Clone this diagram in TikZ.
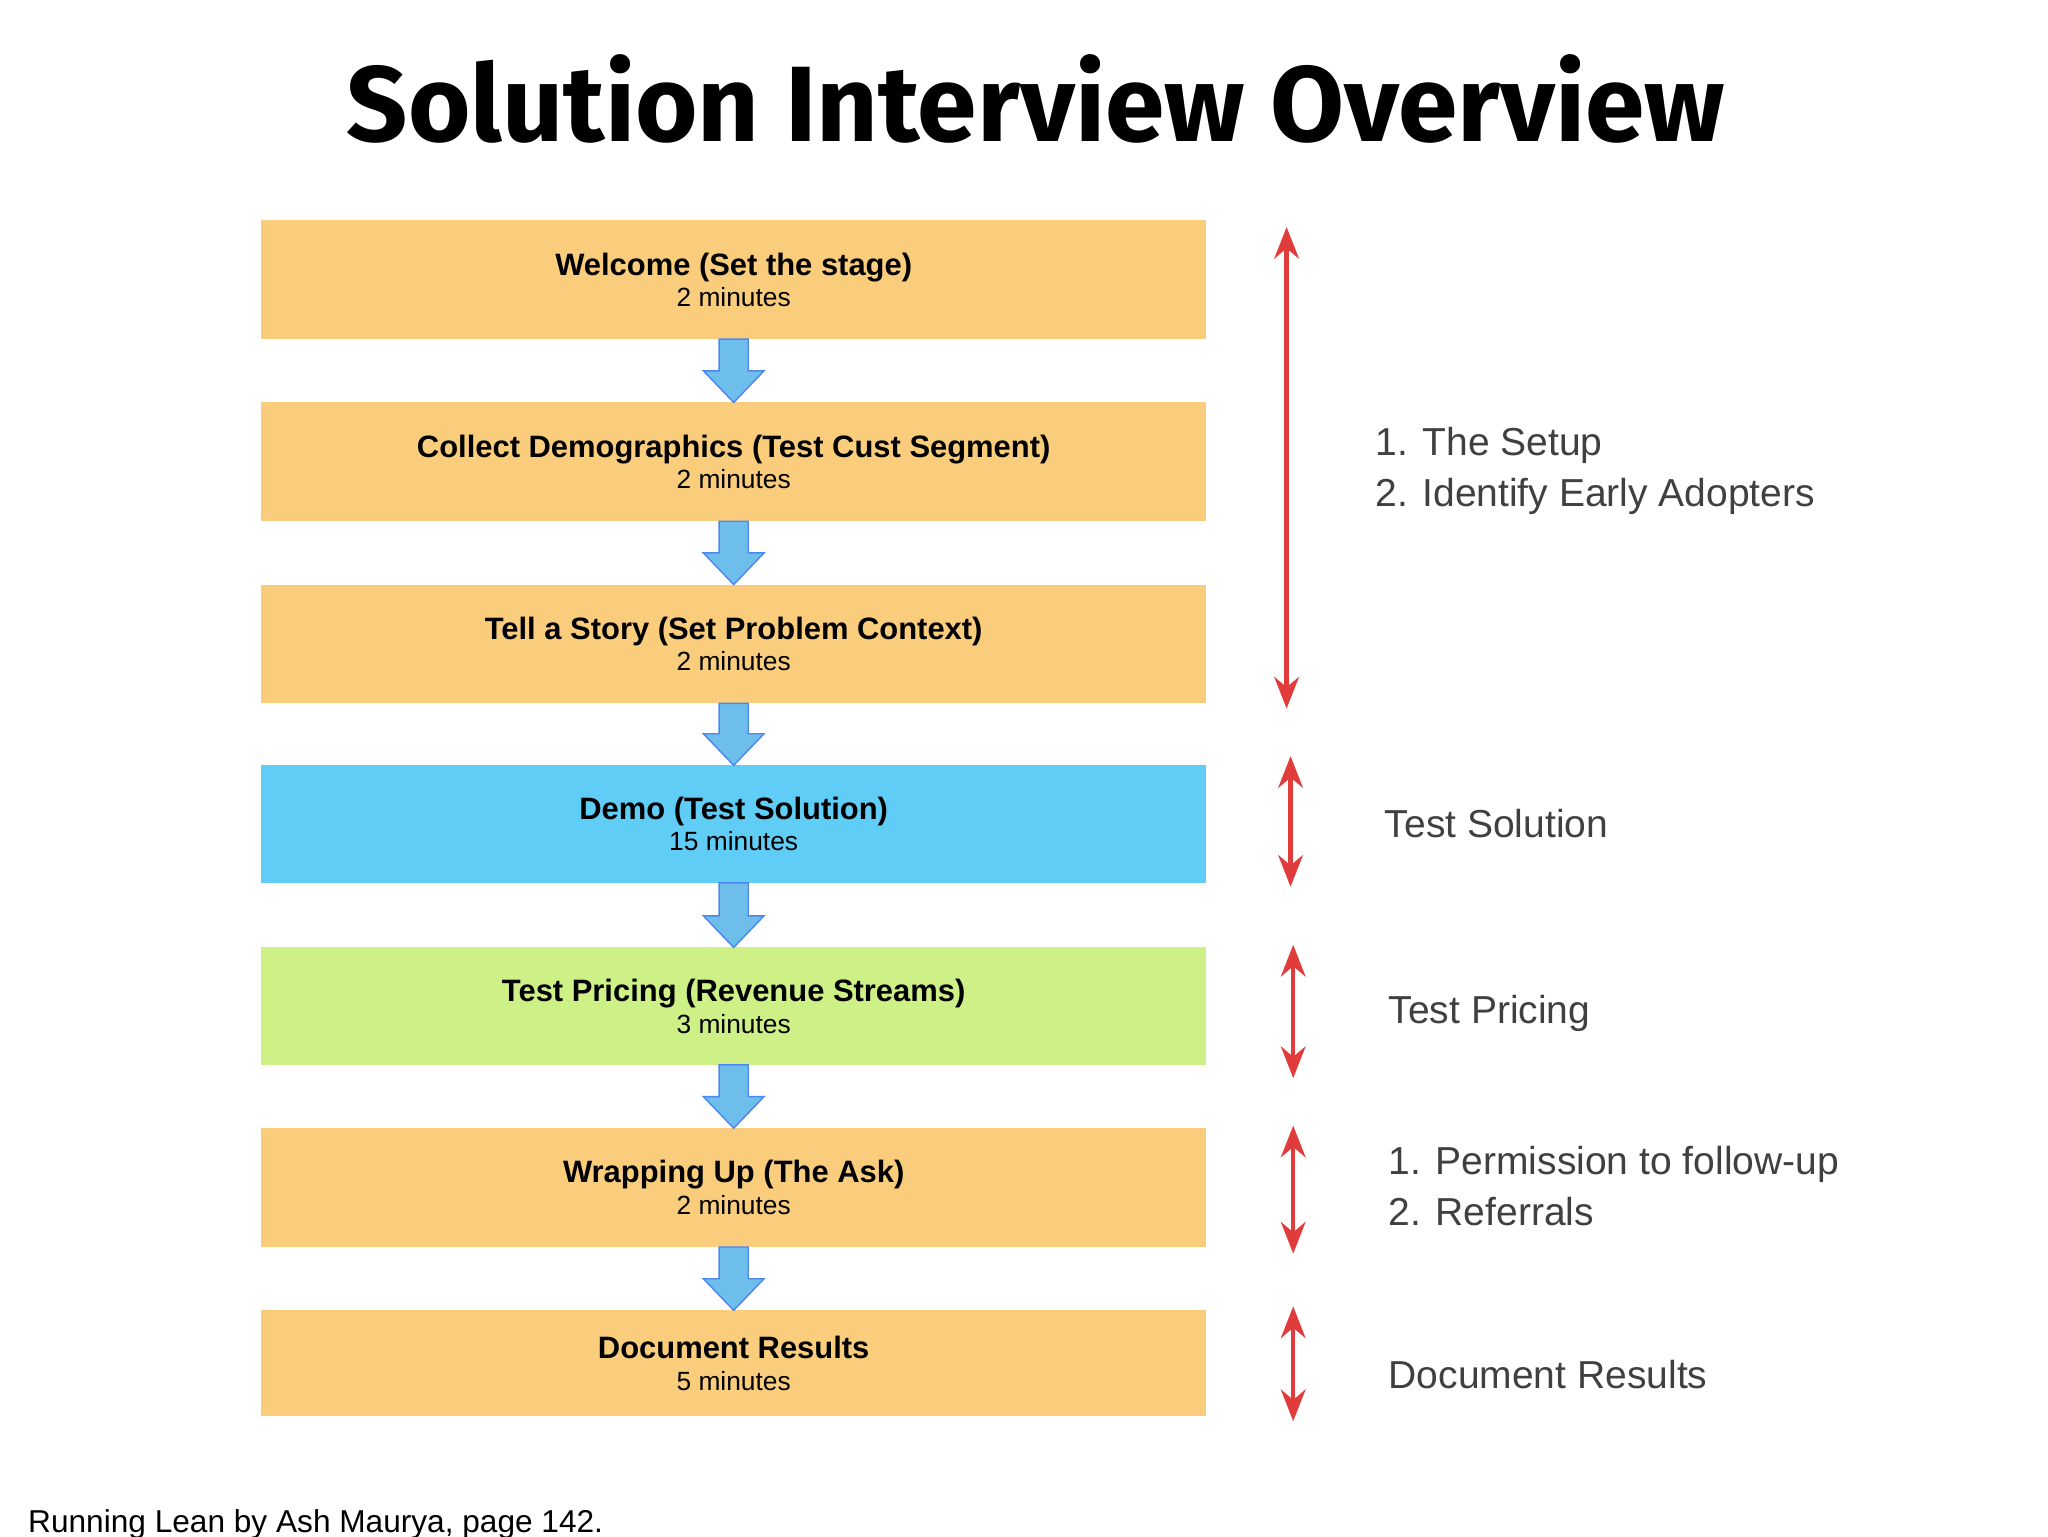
\documentclass[tikz,border=0pt]{standalone}
\usepackage{fontspec}
\setmainfont{Liberation Sans}
\newfontfamily\titlef{Fira Sans}
\usetikzlibrary{arrows.meta,calc}
\definecolor{org}{RGB}{250,205,125}
\definecolor{blu}{RGB}{95,205,245}
\definecolor{grn}{RGB}{205,240,135}
\definecolor{arr}{RGB}{110,190,235}
\definecolor{red}{RGB}{225,60,60}
\begin{document}
\begin{tikzpicture}[x=0.013196cm,y=-0.013196cm,
 dn/.style={fill=arr,draw=arr!70!blue},
 dbl/.style={draw=red,line width=1.3pt,{Stealth[length=9pt,width=7pt]}-{Stealth[length=9pt,width=7pt]}},
 side/.style={anchor=west,align=left,font=\fontsize{11.1}{14.5}\selectfont,text=black!75}]
\useasboundingbox (0,0) rectangle (1552,1164);
\fill[white] (0,0) rectangle (1552,1164);
\node (title) at (785,75) {\titlef\bfseries\fontsize{30.5}{36}\selectfont Solution Interview Overview};
\foreach \n/\y/\h/\c/\t/\m in {
 b1/167/90/org/Welcome (Set the stage)/2,
 b2/305/90/org/Collect Demographics (Test Cust Segment)/2,
 b3/443/90/org/Tell a Story (Set Problem Context)/2,
 b4/580/89/blu/Demo (Test Solution)/15,
 b5/718/89/grn/Test Pricing (Revenue Streams)/3,
 b6/855/90/org/Wrapping Up (The Ask)/2,
 b7/993/80/org/Document Results/5}{
 \fill[\c] (198,\y) rectangle ++(716,\h);
 \coordinate (\n t) at (556,\y);
 \coordinate (\n b) at (556,\y+\h);
 \node[font=\fontsize{8.8}{10}\selectfont,align=center] (\n) at (556,\y+\h/2) {\textbf{\t}\\[-1pt]{\fontsize{7.5}{9}\selectfont\m\ minutes}};
}
\foreach \a/\b in {b1/b2,b2/b3,b3/b4,b4/b5,b5/b6,b6/b7}{
 \path (\a b) coordinate (s) (\b t) coordinate (e);
 \filldraw[dn] ($(s)+(-11,0)$) -- ($(s)+(11,0)$) -- ($(e)+(11,-24)$) -- ($(e)+(23,-24)$) -- (e) -- ($(e)+(-23,-24)$) -- ($(e)+(-11,-24)$) -- cycle;
}
\coordinate (r1a) at (975,172); \coordinate (r1b) at (975,537);
\coordinate (r2a) at (978,573); \coordinate (r2b) at (978,672);
\coordinate (r3a) at (980,716); \coordinate (r3b) at (980,817);
\coordinate (r4a) at (980,853); \coordinate (r4b) at (980,950);
\coordinate (r5a) at (980,990); \coordinate (r5b) at (980,1077);
\foreach \a in {r1,r2,r3,r4,r5}{\draw[dbl] (\a a) -- (\a b);}
\node[side] (t1) at (1033,357) {1. The Setup\\2. Identify Early Adopters};
\node[side] (t2) at (1040,624) {Test Solution};
\node[side] (t3) at (1043,768) {Test Pricing};
\node[side] (t4) at (1043,899) {1. Permission to follow-up\\2. Referrals};
\node[side] (t5) at (1043,1042) {Document Results};
\node[anchor=west,font=\fontsize{9}{11}\selectfont] (foot) at (12,1155) {Running Lean by Ash Maurya, page 142.};
\end{tikzpicture}
\end{document}
